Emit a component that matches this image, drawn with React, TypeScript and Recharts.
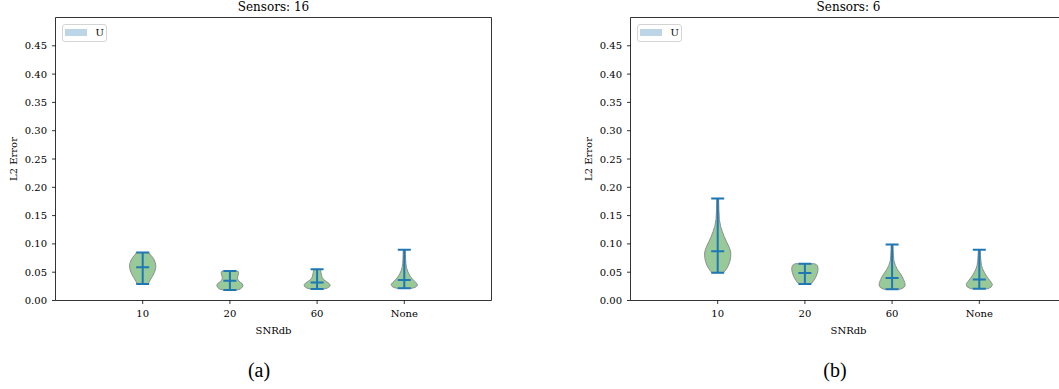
import { ComposedChart, Curve, Legend, ReferenceArea, Scatter, XAxis, YAxis } from "recharts";

const CATEGORIES = ["10", "20", "60", "None"];
const Y_TICKS = [0, 0.05, 0.1, 0.15, 0.2, 0.25, 0.3, 0.35, 0.4, 0.45];
const LEGEND_LABEL = "U";

// Sensors: 16 — extrema, medians and KDE profile ([value, relative half-width], bottom to top)
const S16_MIN = [0.029, 0.0186, 0.0204, 0.0216];
const S16_MAX = [0.0847, 0.052, 0.055, 0.0895];
const S16_MEDIAN = [0.0588, 0.035, 0.032, 0.036];
const S16_KDE_10 = [[0.029, 0.42], [0.033, 0.5], [0.0363, 0.58], [0.041, 0.7], [0.0452, 0.8], [0.05, 0.9], [0.054, 0.96], [0.0585, 1.0], [0.0629, 1.0], [0.067, 0.96], [0.0718, 0.88], [0.0765, 0.75], [0.0806, 0.6], [0.0847, 0.48]];
const S16_KDE_20 = [[0.0186, 0.55], [0.0205, 0.8], [0.0235, 0.95], [0.0265, 1.0], [0.0295, 0.95], [0.0325, 0.78], [0.036, 0.62], [0.0393, 0.58], [0.043, 0.6], [0.047, 0.66], [0.05, 0.66], [0.052, 0.6]];
const S16_KDE_60 = [[0.0204, 0.55], [0.022, 0.78], [0.0245, 0.95], [0.0275, 1.0], [0.0305, 0.9], [0.0335, 0.7], [0.037, 0.5], [0.041, 0.38], [0.045, 0.33], [0.049, 0.3], [0.052, 0.28], [0.055, 0.24]];
const S16_KDE_NONE = [[0.0216, 0.6], [0.0235, 0.85], [0.026, 0.98], [0.0285, 1.0], [0.031, 0.92], [0.034, 0.78], [0.038, 0.62], [0.042, 0.48], [0.047, 0.35], [0.052, 0.25], [0.058, 0.17], [0.065, 0.12], [0.073, 0.1], [0.081, 0.09], [0.0895, 0.08]];

// Sensors: 6
const S6_MIN = [0.049, 0.029, 0.02, 0.0207];
const S6_MAX = [0.18, 0.065, 0.099, 0.0898];
const S6_MEDIAN = [0.0868, 0.0485, 0.0397, 0.037];
const S6_KDE_10 = [[0.049, 0.42], [0.053, 0.58], [0.057, 0.7], [0.062, 0.82], [0.069, 0.93], [0.076, 0.99], [0.084, 1.0], [0.091, 0.93], [0.098, 0.8], [0.105, 0.65], [0.113, 0.5], [0.122, 0.35], [0.131, 0.22], [0.143, 0.13], [0.16, 0.09], [0.18, 0.07]];
const S6_KDE_20 = [[0.029, 0.4], [0.032, 0.58], [0.036, 0.7], [0.04, 0.8], [0.045, 0.9], [0.05, 0.97], [0.054, 1.0], [0.058, 1.0], [0.062, 0.95], [0.065, 0.75]];
const S6_KDE_60 = [[0.02, 0.65], [0.023, 0.9], [0.027, 1.0], [0.032, 0.96], [0.037, 0.88], [0.043, 0.75], [0.049, 0.58], [0.055, 0.4], [0.062, 0.25], [0.07, 0.14], [0.08, 0.1], [0.09, 0.08], [0.099, 0.07]];
const S6_KDE_NONE = [[0.0207, 0.65], [0.024, 0.92], [0.028, 1.0], [0.032, 0.92], [0.036, 0.78], [0.04, 0.65], [0.045, 0.5], [0.05, 0.38], [0.056, 0.25], [0.062, 0.17], [0.07, 0.12], [0.08, 0.09], [0.0898, 0.07]];

const FONT = "'DejaVu Serif', serif";
const VIOLIN_FILL = "#98c999";
const VIOLIN_EDGE = "#8e8e8e";
const BLUE = "#1f77b4";
const LEGEND_FILL = "#bcd6e8";
const HALF_WIDTH = 0.15; // in x units (violin widths = 0.3)
const CAP = 6.5;

const CHART_W = 530;
const CHART_H = 389;

// closed outline: up the right side, back down the left side
function outline(pos: number, kde: number[][]) {
  const right = kde.map(([v, w]) => ({ x: pos + w * HALF_WIDTH, y: v }));
  const left = [...kde].reverse().map(([v, w]) => ({ x: pos - w * HALF_WIDTH, y: v }));
  return [...right, ...left, right[0]];
}

const violinLine = (p: any) => (
  <Curve {...p} type="linear" fill={VIOLIN_FILL} stroke={VIOLIN_EDGE} strokeWidth={1} />
);
const noPoint = () => <g />;
// horizontal tick used for the caps and the median
const hTick = (p: any) => (
  <line x1={p.cx - CAP} x2={p.cx + CAP} y1={p.cy} y2={p.cy} stroke={BLUE} strokeWidth={2} />
);

function LegendBox() {
  return (
    <div
      style={{
        position: "relative",
        width: 43.5,
        height: 16.5,
        border: "1px solid #d4d4d4",
        borderRadius: 3,
        background: "rgba(255,255,255,0.8)",
        fontFamily: FONT,
        fontSize: 10,
        color: "#000",
      }}
    >
      <div style={{ position: "absolute", left: 2.5, top: 4, width: 21.5, height: 7.5, background: LEGEND_FILL }} />
      <span style={{ position: "absolute", left: 33, top: 2, lineHeight: "12px" }}>{LEGEND_LABEL}</span>
    </div>
  );
}

type PanelProps = {
  title: string;
  left: number;
  mins: number[];
  maxs: number[];
  medians: number[];
  kdes: number[][][];
};

function Panel({ title, left, mins, maxs, medians, kdes }: PanelProps) {
  const medianPts = medians.map((m, i) => ({ x: i, y: m }));
  const tickStyle = { fill: "#000", fontSize: 10, fontFamily: FONT };
  return (
    <div style={{ position: "absolute", left, top: 0 }}>
      <ComposedChart width={CHART_W} height={CHART_H} margin={{ top: 17.5, right: 38.5, bottom: 63.5, left: 5.5 }}>
        <XAxis
          type="number"
          dataKey="x"
          domain={[-1, 4]}
          ticks={[0, 1, 2, 3]}
          interval={0}
          allowDataOverflow
          tickFormatter={(v) => CATEGORIES[v] ?? ""}
          height={25}
          tickSize={3.5}
          tickMargin={6}
          axisLine={false}
          tickLine={{ stroke: "#000", strokeWidth: 0.8 }}
          tick={tickStyle}
        />
        <YAxis
          type="number"
          dataKey="y"
          domain={[0, 0.5]}
          ticks={Y_TICKS}
          interval={0}
          allowDataOverflow
          tickFormatter={(v) => Number(v).toFixed(2)}
          width={50}
          tickSize={3.5}
          tickMargin={5}
          axisLine={false}
          tickLine={{ stroke: "#000", strokeWidth: 0.8 }}
          tick={tickStyle}
        />
        <ReferenceArea x1={-1} x2={4} y1={0} y2={0.5} fill="none" stroke="#000" strokeWidth={0.8} ifOverflow="visible" />
        {kdes.map((kde, i) => (
          <Scatter
            key={`body-${CATEGORIES[i]}`}
            data={outline(i, kde)}
            line={violinLine}
            lineType="joint"
            shape={noPoint}
            legendType="none"
            isAnimationActive={false}
          />
        ))}
        {mins.map((mn, i) => (
          <Scatter
            key={`range-${CATEGORIES[i]}`}
            data={[{ x: i, y: mn }, { x: i, y: maxs[i] }]}
            line={{ stroke: BLUE, strokeWidth: 2 }}
            lineType="joint"
            shape={hTick}
            legendType="none"
            isAnimationActive={false}
          />
        ))}
        <Scatter data={medianPts} shape={hTick} legendType="none" isAnimationActive={false} />
        <Legend
          layout="horizontal"
          align="center"
          verticalAlign="middle"
          wrapperStyle={{ left: 61.5, top: 23.5, width: "auto", height: "auto" }}
          content={() => <LegendBox />}
        />
        <text x={273.5} y={11} textAnchor="middle" fontFamily={FONT} fontSize={12} fill="#000">
          {title}
        </text>
        <text x={273.5} y={333.5} textAnchor="middle" fontFamily={FONT} fontSize={10} fill="#000">
          SNRdb
        </text>
        <text
          x={16.5}
          y={159}
          transform="rotate(-90, 16.5, 159)"
          textAnchor="middle"
          fontFamily={FONT}
          fontSize={10}
          fill="#000"
        >
          L2 Error
        </text>
      </ComposedChart>
    </div>
  );
}

export default function App() {
  return (
    <div
      style={{
        position: "absolute",
        left: 0,
        top: 0,
        width: 1059,
        height: 389,
        overflow: "hidden",
        background: "#fff",
      }}
    >
      <Panel
        title="Sensors: 16"
        left={0}
        mins={S16_MIN}
        maxs={S16_MAX}
        medians={S16_MEDIAN}
        kdes={[S16_KDE_10, S16_KDE_20, S16_KDE_60, S16_KDE_NONE]}
      />
      <Panel
        title="Sensors: 6"
        left={575}
        mins={S6_MIN}
        maxs={S6_MAX}
        medians={S6_MEDIAN}
        kdes={[S6_KDE_10, S6_KDE_20, S6_KDE_60, S6_KDE_NONE]}
      />
      <svg width={1059} height={389} style={{ position: "absolute", left: 0, top: 0, pointerEvents: "none" }}>
        <text x={259} y={377} textAnchor="middle" fontFamily="'Liberation Serif', serif" fontSize={20} fill="#000">
          (a)
        </text>
        <text x={835} y={377} textAnchor="middle" fontFamily="'Liberation Serif', serif" fontSize={20} fill="#000">
          (b)
        </text>
      </svg>
    </div>
  );
}
